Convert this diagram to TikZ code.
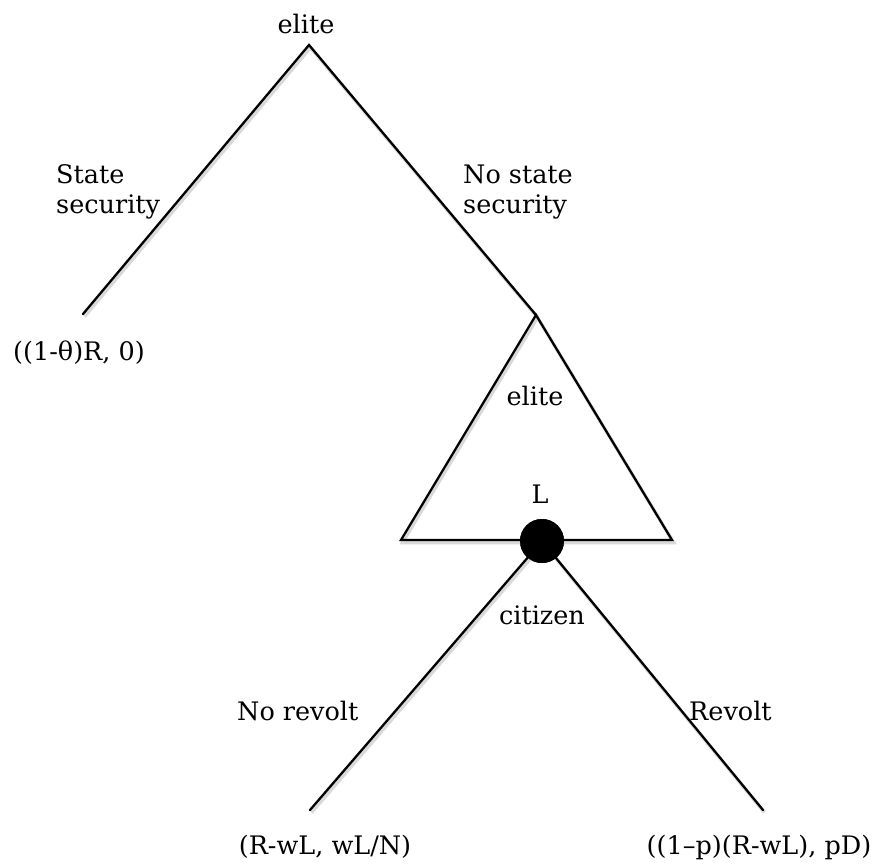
\documentclass[tikz,border=0pt]{standalone}
\usepackage{fontspec}
\setmainfont{DejaVu Serif}
\begin{document}
\begin{tikzpicture}[x=1pt,y=-1pt,
  lbl/.style={font=\fontsize{25.5}{30}\selectfont, inner sep=0pt},
  edge/.style={line width=2.3pt, line cap=round, line join=miter},
  shadowed/.style={preaction={draw=black!15, line width=3.5pt, transform canvas={shift={(1.5pt,-2.5pt)}}}}]
\useasboundingbox (0,0) rectangle (879,865);
% nodes / coordinates
\coordinate (root) at (309,45);
\coordinate (leftend) at (83,314);
\coordinate (tapex) at (536,315);
\coordinate (tbl) at (401,540);
\coordinate (tbr) at (672,540);
\node[circle, fill=black, minimum size=44pt, inner sep=0pt] (dot) at (542,541) {};
\coordinate (nrend) at (310,810);
\coordinate (rend) at (763,810);
% edges
\draw[edge, shadowed] (leftend) -- (root) -- (tapex);
\draw[edge, shadowed] (tapex) -- (tbl) -- (tbr) -- cycle;
\draw[edge, shadowed] (dot.center) -- (nrend);
\draw[edge, shadowed] (dot.center) -- (rend);
\node[circle, fill=black, minimum size=44pt, inner sep=0pt] at (dot) {};
% labels
\node[lbl, anchor=base] (rootlbl) at (306,33) {elite};
\node[lbl, anchor=base west] (ss1) at (56,183) {State};
\node[lbl, anchor=base west] (ss2) at (56,213) {security};
\node[lbl, anchor=base west] (nss1) at (463,183) {No state};
\node[lbl, anchor=base west] (nss2) at (463,213) {security};
\node[lbl, anchor=base west] (p1) at (13,360) {((1-θ)R, 0)};
\node[lbl, anchor=base] (elite2) at (535,405) {elite};
\node[lbl, anchor=base] (L) at (540,503) {L};
\node[lbl, anchor=base] (cit) at (542,624) {citizen};
\node[lbl, anchor=base west] (nr) at (237,720) {No revolt};
\node[lbl, anchor=base west] (rv) at (689,720) {Revolt};
\node[lbl, anchor=base] (p2) at (325,854) {(R-wL, wL/N)};
\node[lbl, anchor=base] (p3) at (759,854) {((1–p)(R-wL), pD)};
\end{tikzpicture}
\end{document}
